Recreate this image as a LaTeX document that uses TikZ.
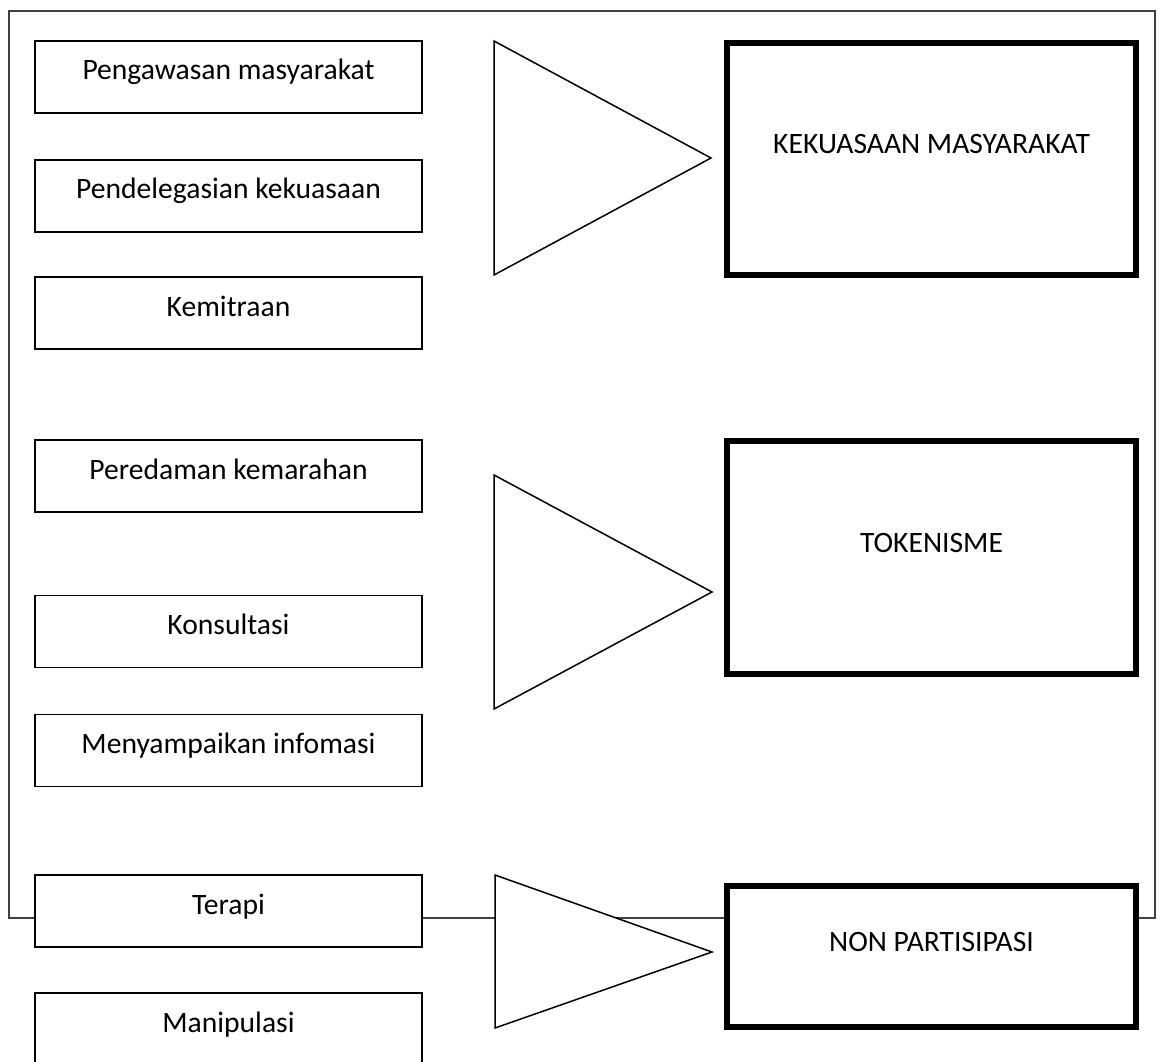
\documentclass[tikz,border=0pt]{standalone}
\usepackage{fontspec}
\setmainfont{Carlito}
\begin{document}
\begin{tikzpicture}[x=1pt,y=-1pt,
  every node/.style={font=\fontsize{29.6}{35}\selectfont},
  frame/.style={draw=black!75, line width=1.2pt},
  stage/.style={draw=black, line width=1.6pt, fill=white,
    minimum width=387pt, minimum height=72pt, inner sep=0pt,
    text height=20pt, text depth=14pt},
  level/.style={draw=black, line width=6pt, fill=white,
    minimum width=409pt, inner sep=0pt,
    text height=8pt, text depth=18pt},
  wedge/.style={draw=black, line width=1.5pt, fill=white, line join=miter}]

\useasboundingbox (0,0) rectangle (1160,1062);
\fill[white] (0,0) rectangle (1160,1062);

% outer frame, partly covered by the shapes drawn on top of it
\draw[frame] (9,11) rectangle (1155,918);

% ladder rungs
\node[stage] (s1) at (228.5,77)   {Pengawasan masyarakat};
\node[stage] (s2) at (228.5,196)  {Pendelegasian kekuasaan};
\node[stage] (s3) at (228.5,313)  {Kemitraan};
\node[stage] (s4) at (228.5,476)  {Peredaman kemarahan};
\node[stage] (s5) at (228.5,631.5){Konsultasi};
\node[stage] (s6) at (228.5,750.5){Menyampaikan infomasi};
\node[stage] (s7) at (228.5,911)  {Terapi};
\node[stage] (s8) at (228.5,1029) {Manipulasi};

% grouping wedges
\draw[wedge] (494,41)  -- (494,275)  -- (711,158) -- cycle;
\draw[wedge] (494,475) -- (494,709)  -- (712,592) -- cycle;
\draw[wedge] (495,875) -- (495,1028) -- (712,952) -- cycle;

% participation levels
\node[level, minimum height=232pt] (l1) at (931.5,159)   {KEKUASAAN MASYARAKAT};
\node[level, minimum height=233pt] (l2) at (931.5,557.5) {TOKENISME};
\node[level, minimum height=141pt] (l3) at (931.5,956.5) {NON PARTISIPASI};
\end{tikzpicture}
\end{document}
